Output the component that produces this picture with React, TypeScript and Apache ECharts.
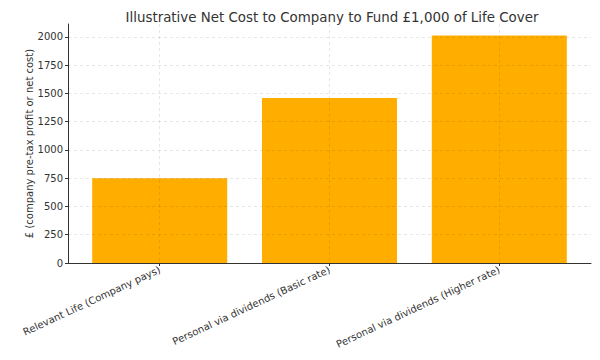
import React, { useEffect, useRef } from "react";
import * as echarts from "echarts";

const categories = [
  "Relevant Life (Company pays)",
  "Personal via dividends (Basic rate)",
  "Personal via dividends (Higher rate)",
];
const values = [750, 1461, 2013];
const positions = [0, 1, 2];
const yTicks = [0, 250, 500, 750, 1000, 1250, 1500, 1750, 2000];

export default function App() {
  const ref = useRef<HTMLDivElement>(null);
  useEffect(() => {
    if (!ref.current) return;
    const chart = echarts.init(ref.current, undefined, { renderer: "svg" });
    const gridLine = { show: true, lineStyle: { color: "rgba(0,0,0,0.12)", type: [3, 3] as any, width: 0.8 } };
    chart.setOption({
      animation: false,
      title: {
        text: "Illustrative Net Cost to Company to Fund £1,000 of Life Cover",
        left: 327,
        textAlign: "center",
        top: 6,
        textStyle: { fontFamily: "DejaVu Sans", fontSize: 13.4, fontWeight: "normal", color: "#333" },
      },
      grid: { left: 68, right: 9, top: 24, bottom: 97, containLabel: false },
      xAxis: {
        type: "value",
        min: -0.54,
        max: 2.54,
        z: 3,
        axisLine: { show: true, onZero: false, lineStyle: { color: "#333", width: 1 } },
        axisTick: { show: true, length: 3, customValues: positions, lineStyle: { color: "#333" } },
        axisLabel: {
          customValues: positions,
          rotate: 25,
          margin: 6,
          fontFamily: "DejaVu Sans",
          fontSize: 10,
          color: "#333",
          formatter: (v: number) => categories[Math.round(v)] ?? "",
        },
        splitLine: gridLine,
      },
      yAxis: {
        type: "value",
        min: 0,
        max: 2115,
        z: 3,
        name: "£ (company pre-tax profit or net cost)",
        nameLocation: "middle",
        nameGap: 34,
        nameMoveOverlap: false,
        nameTextStyle: { fontFamily: "DejaVu Sans", fontSize: 10, color: "#333" },
        axisLine: { show: true, onZero: false, lineStyle: { color: "#333", width: 1 } },
        axisTick: { show: true, length: 3, customValues: yTicks, lineStyle: { color: "#333" } },
        axisLabel: {
          customValues: yTicks,
          fontFamily: "DejaVu Sans",
          fontSize: 10,
          color: "#333",
          margin: 5,
          formatter: (v: number) => String(v),
        },
        splitLine: gridLine,
      },
      series: [
        {
          type: "bar",
          data: values.map((v, i) => [positions[i], v]),
          barWidth: 135,
          itemStyle: { color: "#FFAE00" },
          z: 2,
        },
      ],
    });
    return () => chart.dispose();
  }, []);
  return <div ref={ref} style={{ position: "absolute", left: 0, top: 0, width: 600, height: 360 }} />;
}
